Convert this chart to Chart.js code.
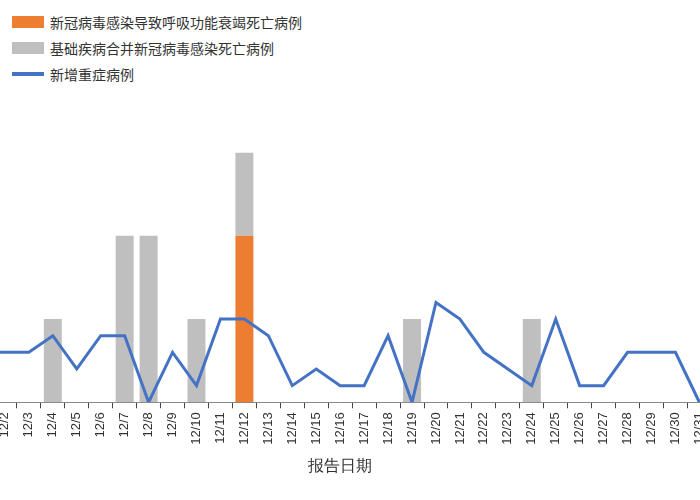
<!DOCTYPE html>
<html><head><meta charset="utf-8">
<script src="https://cdn.jsdelivr.net/npm/chart.js@4"></script>
<style>
body{margin:0;width:700px;height:500px;overflow:hidden;position:relative;background:#fff;font-family:"Noto Sans CJK SC",sans-serif}
#wrap{position:absolute;left:-31px;top:0;width:750px;height:500px}
.lg{position:absolute;left:12px;font-size:14px;color:#333;display:flex;align-items:center}
.lg i{display:inline-block;width:32px;margin-right:6px}
</style></head><body>
<div class="lg" style="top:12px"><i style="height:12px;background:#ed7d31"></i>新冠病毒感染导致呼吸功能衰竭死亡病例</div>
<div class="lg" style="top:38px"><i style="height:12px;background:#bfbfbf"></i>基础疾病合并新冠病毒感染死亡病例</div>
<div class="lg" style="top:64px"><i style="height:4px;background:#4472c4"></i>新增重症病例</div>
<div id="wrap"><canvas id="c"></canvas></div>
<script>
const dates = ['12/1','12/2','12/3','12/4','12/5','12/6','12/7','12/8','12/9','12/10','12/11','12/12','12/13','12/14','12/15','12/16','12/17','12/18','12/19','12/20','12/21','12/22','12/23','12/24','12/25','12/26','12/27','12/28','12/29','12/30','12/31'];
const respDeaths = [0,0,0,0,0,0,0,0,0,0,0,10,0,0,0,0,0,0,0,0,0,0,0,0,0,0,0,0,0,0,0];
const comorbDeaths = [0,0,0,5,0,0,10,10,0,5,0,5,0,0,0,0,0,0,5,0,0,0,0,5,0,0,0,0,0,0,0];
const severeCases = [3,3,3,4,2,4,4,0,3,1,5,5,4,1,2,1,1,4,0,6,5,3,2,1,5,1,1,3,3,3,0];

new Chart(document.getElementById('c'), {
  data: {
    labels: dates,
    datasets: [
      { type:'line', label:'新增重症病例', data:severeCases, borderColor:'#4472c4', borderWidth:3, pointRadius:0, tension:0, order:0 },
      { type:'bar', label:'新冠病毒感染导致呼吸功能衰竭死亡病例', data:respDeaths, backgroundColor:'#ed7d31', stack:'d', order:1 },
      { type:'bar', label:'基础疾病合并新冠病毒感染死亡病例', data:comorbDeaths, backgroundColor:'#bfbfbf', stack:'d', order:1 }
    ]
  },
  options: {
    responsive:true, maintainAspectRatio:false, animation:false,
    categoryPercentage:0.75, barPercentage:1,
    layout:{ padding:{ top:136, bottom:20, left:0, right:0 } },
    plugins:{ legend:{ display:false }, tooltip:{ enabled:false } },
    scales:{
      x:{ stacked:true, offset:true,
        grid:{ display:true, drawOnChartArea:false, offset:true, tickLength:6, color:'#444' },
        border:{ color:'#888', width:1 },
        ticks:{ minRotation:90, maxRotation:90, color:'#333', font:{ size:13 }, autoSkip:false, padding:4 },
        title:{ display:true, text:'报告日期', color:'#333', font:{ size:16 }, padding:{ top:8 } } },
      y:{ stacked:true, display:false, min:0, max:16 }
    }
  }
});
</script>
</body></html>
